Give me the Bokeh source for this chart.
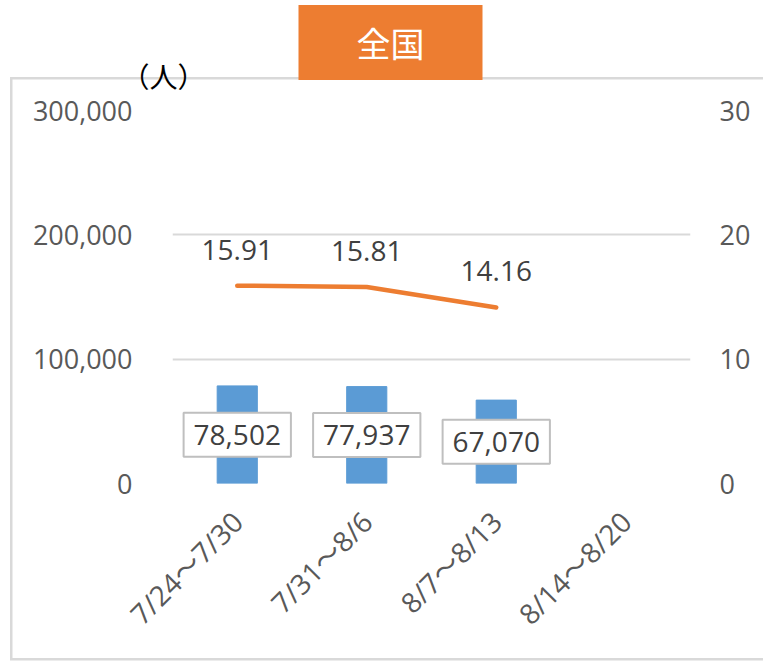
import math
from bokeh.plotting import figure
from bokeh.models import (Range1d, LinearAxis, FactorRange, NumeralTickFormatter,
                          FixedTicker, Label, Title)
from bokeh.embed import file_html
from bokeh.resources import INLINE

# ---- data ----
categories = ["7/24～7/30", "7/31～8/6", "8/7～8/13", "8/14～8/20"]
patients = [78502, 77937, 67070]          # bars (left axis, 人)
rate_categories = ["7/24～7/30", "7/31～8/6", "8/7～8/13"]
rates = [15.91, 15.81, 14.16]             # line (right axis)
left_ticks = [0, 100000, 200000, 300000]
right_ticks = [0, 10, 20, 30]
title_text = "全国"
unit_text = "（人）"

FONT = "Open Sans"
CJK = "Noto Sans CJK JP"
MIXED = "Open Sans, 'Noto Sans CJK JP'"
TICK_COLOR = "#595959"
LABEL_COLOR = "#404040"
GRID = "#D9D9D9"
BLUE = "#5B9BD5"
ORANGE = "#ED7D31"

W, H = 763, 661
FL, FR, FT, FB = 172, 690, 110, 483   # plot frame edges (canvas px)
p = figure(x_range=FactorRange(*categories), y_range=Range1d(0, 300000),
           width=W, height=H, output_backend="svg", toolbar_location=None,
           min_border_left=FL, min_border_right=W - FR,
           min_border_top=FT, min_border_bottom=H - FB, title=None)
p.extra_y_ranges = {"rate": Range1d(0, 30)}
p.outline_line_color = None
p.background_fill_color = "white"
p.border_fill_color = None

# light grey chart-area border drawn behind the (transparent) canvas border area
line = f"linear-gradient({GRID},{GRID})"
p.styles = {
    "background": (f"{line} 10px 77px / 2.5px 583px no-repeat, "
                   f"{line} 10px 77px / 760px 2.5px no-repeat, "
                   f"{line} 10px 657.5px / 760px 2.5px no-repeat, #ffffff")
}

# above panel: unit label (nearest the frame), title box, top spacer
p.add_layout(Title(text=unit_text, align="left", offset=-51, standoff=0,
                   text_font=CJK, text_font_size="28px",
                   text_font_style="normal", text_color="black",
                   padding=dict(left=0, right=0, top=0, bottom=15)), "above")
p.add_layout(Title(text=title_text, align="left", offset=126, standoff=-53,
                   text_font=CJK, text_font_size="34px",
                   text_font_style="normal", text_color="white",
                   background_fill_color=ORANGE,
                   padding=dict(left=58, right=58, top=13, bottom=13)), "above")
p.add_layout(Title(text=" ", text_font_size="2px", standoff=24.7), "above")

# bars and line
p.vbar(x=categories[:len(patients)], top=patients, width=0.31, color=BLUE)
p.line(x=rate_categories, y=rates, y_range_name="rate", line_color=ORANGE,
       line_width=4.5, line_cap="round")

# axes
p.yaxis.ticker = FixedTicker(ticks=left_ticks)
p.yaxis.formatter = NumeralTickFormatter(format="0,0")
right = LinearAxis(y_range_name="rate", ticker=FixedTicker(ticks=right_ticks))
p.add_layout(right, "right")

for ax in p.yaxis + p.xaxis:
    ax.axis_line_color = None
    ax.major_tick_line_color = None
    ax.minor_tick_line_color = None
    ax.major_tick_out = 0
    ax.major_tick_in = 0
    ax.major_label_text_font = FONT
    ax.major_label_text_font_size = "27px"
    ax.major_label_text_color = TICK_COLOR
p.xaxis.major_label_text_font = MIXED
p.xaxis.major_label_text_font_size = "28px"
p.yaxis[0].major_label_standoff = 40
right.major_label_standoff = 29
p.xaxis.major_label_orientation = math.pi / 4
p.xaxis.major_label_standoff = 33

p.xgrid.grid_line_color = None
p.ygrid.ticker = FixedTicker(ticks=left_ticks)
p.ygrid.grid_line_color = GRID
p.ygrid.grid_line_width = 2

# bar value labels (boxed)
for i, v in enumerate(patients):
    p.add_layout(Label(x=i + 0.5, y=v / 2, text=f"{v:,}",
                       text_font=FONT, text_font_size="28px",
                       text_color=LABEL_COLOR, text_align="center",
                       text_baseline="middle",
                       background_fill_color="white",
                       border_line_color="#BFBFBF", border_line_width=2,
                       padding=dict(left=10, right=10, top=12, bottom=12)))

# line value labels
for i, r in enumerate(rates):
    p.add_layout(Label(x=i + 0.5, y=r * 10000, text=f"{r:.2f}", y_offset=36,
                       text_font=FONT, text_font_size="28px",
                       text_color=LABEL_COLOR, text_align="center",
                       text_baseline="middle"))

open("out.html", "w").write(file_html(p, INLINE))
